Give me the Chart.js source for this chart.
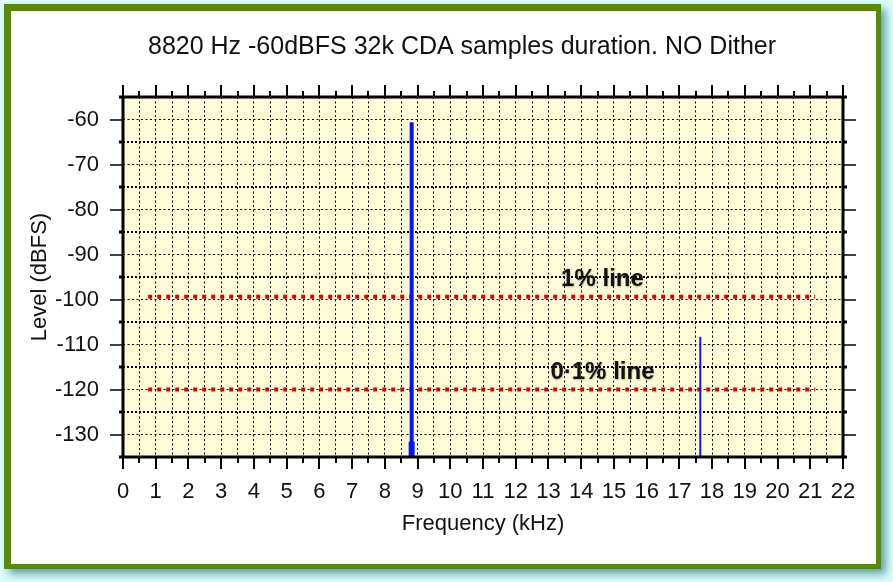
<!DOCTYPE html>
<html>
<head>
<meta charset="utf-8">
<title>8820 Hz -60dBFS 32k CDA samples duration. NO Dither</title>
<script src="https://cdn.jsdelivr.net/npm/chart.js@4.4.0/dist/chart.umd.min.js"></script>
<style>
  html, body { margin: 0; padding: 0; }
  body { width: 893px; height: 582px; background: #dcfcfc; position: relative; overflow: hidden; }
  #frame {
    position: absolute; left: 4px; top: 4px; width: 865px; height: 553px;
    background: #fff; border-style: solid; border-color: #5b8a00;
    border-width: 7px 5px 5px 7px; box-shadow: 5px 5px 8px #5fa3a8;
  }
  #chart { position: absolute; left: 0; top: 0; }
</style>
</head>
<body>
<div id="frame"></div>
<canvas id="chart" width="893" height="582"></canvas>
<script>
const titleText = "8820 Hz -60dBFS 32k CDA samples duration. NO Dither";
const xTitle = "Frequency (kHz)";
const yTitle = "Level (dBFS)";

// axis ranges
const freqMin = 0, freqMax = 22, freqStep = 0.5;
const levelMin = -135, levelMax = -55, levelStep = 5;

// spectrum spikes: frequency (kHz) and peak level (dBFS)
const spikeFreqs = [8.82, 8.82, 17.64];
const spikeLevels = [-60.6, -131.6, -108.3];

// reference lines (dBFS) and their labels
const refLevels = [-99.4, -120];
const refLabels = ["1% line", "0·1% line"];
const refFrom = 0.77, refTo = 21.15;

const FONT = '"Liberation Sans", Arial, Helvetica, sans-serif';
const spikeWidths = [4, 6, 2];

const datasets = [];
spikeFreqs.forEach((f, i) => {
  datasets.push({
    data: [{ x: f, y: levelMin }, { x: f, y: spikeLevels[i] }],
    borderColor: "#0614ff",
    borderWidth: spikeWidths[i],
    borderCapStyle: "butt",
    showLine: true,
    pointRadius: 0,
  });
});
refLevels.forEach((lvl) => {
  datasets.push({
    data: [{ x: refFrom, y: lvl }, { x: refTo, y: lvl }],
    borderColor: "#dd0000",
    borderWidth: 4,
    borderDash: [4, 5],
    borderCapStyle: "butt",
    showLine: true,
    pointRadius: 0,
  });
});

function line(ctx, x1, y1, x2, y2) {
  ctx.beginPath();
  ctx.moveTo(x1, y1);
  ctx.lineTo(x2, y2);
  ctx.stroke();
}

// background, box, tick marks, title and line labels
const decor = {
  id: "decor",
  beforeDraw(chart) {
    const { ctx, chartArea: a } = chart;
    ctx.save();
    ctx.fillStyle = "#fdfcd6";
    ctx.fillRect(a.left, a.top, a.right - a.left, a.bottom - a.top);
    ctx.restore();
  },
  afterDatasetsDraw(chart) {
    const { ctx, chartArea: a } = chart;
    const xs = chart.scales.x, ys = chart.scales.y;
    ctx.save();
    ctx.strokeStyle = "#000";

    xs.ticks.forEach((t) => {
      const px = Math.round(xs.getPixelForValue(t.value));
      const len = Number.isInteger(t.value) ? 12 : 6;
      ctx.lineWidth = 2;
      line(ctx, px, a.bottom, px, a.bottom + len);
      line(ctx, px, a.top, px, a.top - len);
    });
    ys.ticks.forEach((t) => {
      const py = Math.round(ys.getPixelForValue(t.value));
      const major = t.value % 10 === 0;
      const len = major ? 13 : 4;
      ctx.lineWidth = major ? 1.5 : 3;
      line(ctx, a.left, py, a.left - len, py);
      line(ctx, a.right, py, a.right + len, py);
    });

    ctx.lineWidth = 3;
    ctx.strokeRect(a.left, a.top, a.right - a.left, a.bottom - a.top);

    // title
    ctx.fillStyle = "#111";
    ctx.font = "25px " + FONT;
    ctx.textAlign = "center";
    ctx.textBaseline = "middle";
    ctx.fillText(titleText, 462, 47);

    // reference line labels
    ctx.font = "bold 24px " + FONT;
    ctx.shadowColor = "rgba(0,0,0,0.3)";
    ctx.shadowBlur = 2;
    ctx.shadowOffsetX = 0.5;
    ctx.shadowOffsetY = 0.5;
    refLevels.forEach((lvl, i) => {
      ctx.fillText(refLabels[i], xs.getPixelForValue(14.65), ys.getPixelForValue(lvl) - 17);
    });
    ctx.restore();
  },
};

new Chart(document.getElementById("chart"), {
  type: "scatter",
  data: { datasets },
  options: {
    responsive: false,
    animation: false,
    events: [],
    layout: { padding: { top: 97, right: 50, left: 0, bottom: 0 } },
    plugins: { legend: { display: false }, tooltip: { enabled: false }, title: { display: false } },
    scales: {
      x: {
        type: "linear",
        position: "bottom",
        min: freqMin,
        max: freqMax,
        afterFit: (s) => { s.height = 125; },
        ticks: {
          stepSize: freqStep,
          autoSkip: false,
          maxRotation: 0,
          padding: 22,
          color: "#111",
          font: { family: FONT, size: 22 },
          callback: (v) => (Number.isInteger(v) ? v : ""),
        },
        grid: { color: "#000", lineWidth: 1, drawTicks: false },
        border: { display: false, dash: [2, 2.5] },
        title: {
          display: true,
          text: xTitle,
          color: "#111",
          font: { family: FONT, size: 22 },
          padding: { top: 0, bottom: 45 },
        },
      },
      y: {
        type: "linear",
        min: levelMin,
        max: levelMax,
        afterFit: (s) => { s.width = 123; },
        ticks: {
          stepSize: levelStep,
          autoSkip: false,
          padding: 24,
          color: "#111",
          font: { family: FONT, size: 22 },
          callback: (v) => (v % 10 === 0 ? v : ""),
        },
        grid: {
          color: "#000",
          drawTicks: false,
          lineWidth: (c) => (c.tick && c.tick.value % 10 !== 0 ? 2 : 1),
        },
        border: {
          display: false,
          dash: (c) => (c.tick && c.tick.value % 10 !== 0 ? [2, 2] : [2, 2.5]),
        },
        title: {
          display: true,
          text: yTitle,
          color: "#111",
          font: { family: FONT, size: 22 },
          padding: { top: 27, bottom: 0 },
        },
      },
    },
  },
  plugins: [decor],
});
</script>
</body>
</html>
